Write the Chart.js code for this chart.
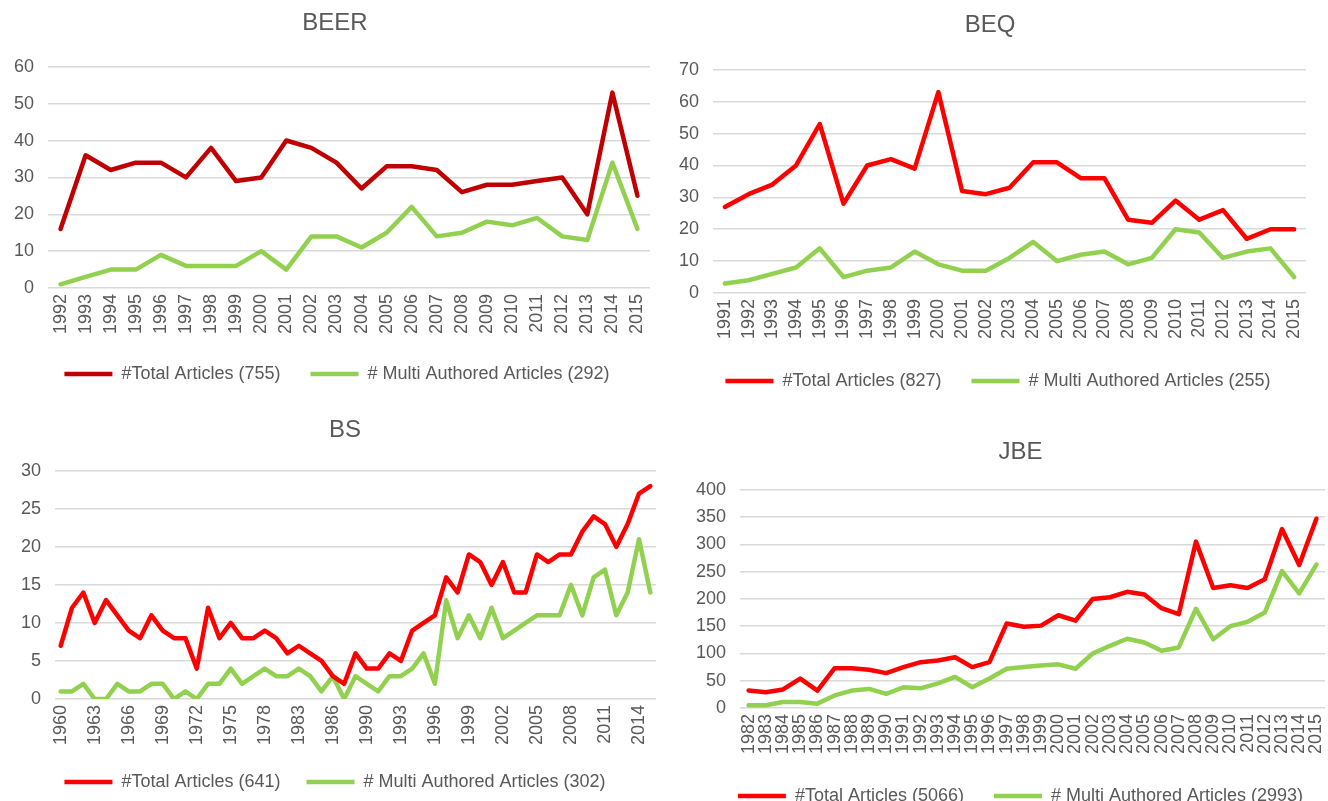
<!DOCTYPE html>
<html>
<head>
<meta charset="utf-8">
<script src="https://cdn.jsdelivr.net/npm/chart.js@4.4.1/dist/chart.umd.min.js"></script>
<style>
  html, body { margin: 0; padding: 0; background: #fff; overflow: hidden; }
  canvas { position: absolute; }
</style>
</head>
<body>
<canvas id="beer" width="664" height="400" style="left:0;top:0"></canvas>
<canvas id="beq" width="664" height="400" style="left:664px;top:0"></canvas>
<canvas id="bs" width="664" height="401" style="left:0;top:400px"></canvas>
<canvas id="jbe" width="664" height="400" style="left:664px;top:420px"></canvas>
<script>
// BEER
const beerYears = ['1992','1993','1994','1995','1996','1997','1998','1999','2000','2001','2002','2003',
  '2004','2005','2006','2007','2008','2009','2010','2011','2012','2013','2014','2015'];
const beerTotal = [16,36,32,34,34,30,38,29,30,40,38,34,27,33,33,32,26,28,28,29,30,20,53,25];
const beerMulti = [1,3,5,5,9,6,6,6,10,5,14,14,11,15,22,14,15,18,17,19,14,13,34,16];

// BEQ
const beqYears = ['1991','1992','1993','1994','1995','1996','1997','1998','1999','2000','2001','2002',
  '2003','2004','2005','2006','2007','2008','2009','2010','2011','2012','2013','2014','2015'];
const beqTotal = [27,31,34,40,53,28,40,42,39,63,32,31,33,41,41,36,36,23,22,29,23,26,17,20,20];
const beqMulti = [3,4,6,8,14,5,7,8,13,9,7,7,11,16,10,12,13,9,11,20,19,11,13,14,5];

// BS (only every third year is labelled on the axis)
const bsYears = ['1960','1961','1962','1963','1964','1965','1966','1967','1968','1969','1970','1971',
  '1972','1973','1974','1975','1976','1977','1978','1980','1981','1983','1984','1985','1986','1988',
  '1989','1990','1991','1992','1993','1994','1995','1996','1997','1998','1999','2000','2001','2002',
  '2003','2004','2005','2006','2007','2008','2009','2010','2011','2012','2013','2014','2015'];
const bsTotal = [7,12,14,10,13,11,9,8,11,9,8,8,4,12,8,10,8,8,9,8,6,7,6,5,3,2,6,4,4,6,5,9,10,11,16,
  14,19,18,15,18,14,14,19,18,19,19,22,24,23,20,23,27,28];
const bsMulti = [1,1,2,0,0,2,1,1,2,2,0,1,0,2,2,4,2,3,4,3,3,4,3,1,3,0,3,2,1,3,3,4,6,2,13,8,11,8,12,
  8,9,10,11,11,11,15,11,16,17,11,14,21,14];

// JBE
const jbeYears = ['1982','1983','1984','1985','1986','1987','1988','1989','1990','1991','1992','1993',
  '1994','1995','1996','1997','1998','1999','2000','2001','2002','2003','2004','2005','2006','2007',
  '2008','2009','2010','2011','2012','2013','2014','2015'];
const jbeTotal = [32,29,34,54,32,73,73,70,64,75,84,87,93,75,84,155,149,151,170,160,200,203,213,208,
  183,172,305,220,225,220,236,328,262,347];
const jbeMulti = [5,5,11,11,8,23,32,35,26,38,36,45,57,38,54,72,75,78,80,72,100,114,127,120,105,111,
  182,126,150,158,175,251,210,263];

const GREEN = '#92D050';
const TEXT = '#595959';
const FONT = "'Liberation Sans', Arial, sans-serif";

// nudges title / legend sideways (the Excel original isn't centred on the plot)
const shiftPlugin = {
  id: 'shift',
  afterLayout(chart, args, opts) {
    const t = chart.titleBlock;
    if (t && opts.title) { t.left += opts.title; t.right += opts.title; }
    const l = chart.legend;
    if (l && opts.legend) { l.left += opts.legend; l.right += opts.legend; }
  }
};

function makeChart(id, o) {
  const ctx = document.getElementById(id).getContext('2d');
  return new Chart(ctx, {
    type: 'line',
    plugins: [shiftPlugin],
    data: {
      labels: o.labels,
      datasets: [
        { label: o.totalLabel, data: o.total, borderColor: o.totalColor, backgroundColor: o.totalColor,
          borderWidth: 4.5, pointRadius: 0, tension: 0, borderCapStyle: 'round', borderJoinStyle: 'round' },
        { label: o.multiLabel, data: o.multi, borderColor: GREEN, backgroundColor: GREEN,
          borderWidth: 4.5, pointRadius: 0, tension: 0, borderCapStyle: 'round', borderJoinStyle: 'round' }
      ]
    },
    options: {
      responsive: false,
      animation: false,
      layout: { padding: o.pad },
      plugins: {
        shift: o.shift,
        title: {
          display: true, text: o.title, color: TEXT,
          font: { family: FONT, size: 24, weight: 'normal', lineHeight: 1.2 },
          padding: o.titlePad
        },
        legend: {
          position: 'bottom',
          labels: {
            color: TEXT, font: { family: FONT, size: 18 }, padding: o.legendPad,
            usePointStyle: true, pointStyle: 'line', pointStyleWidth: 48
          }
        },
        tooltip: { enabled: false }
      },
      scales: {
        x: {
          offset: true,
          grid: { display: false, drawTicks: false },
          border: { display: false },
          afterFit: function (s) { s.height = o.xHeight; s.paddingLeft = 0; s.paddingRight = 0; },
          ticks: {
            autoSkip: false, maxRotation: 90, minRotation: 90, padding: 6, color: TEXT,
            font: { family: FONT, size: 18 },
            callback: function (v, i) {
              return i % o.every === 0 ? this.getLabelForValue(v) : '';
            }
          }
        },
        y: {
          min: 0, max: o.yMax,
          grid: { color: '#D9D9D9', lineWidth: 1.5, drawTicks: false },
          border: { display: false },
          afterFit: function (s) { s.width = o.yWidth; },
          ticks: { stepSize: o.yStep, padding: 14, color: TEXT, font: { family: FONT, size: 18 } }
        }
      }
    }
  });
}

makeChart('beer', {
  title: 'BEER', labels: beerYears, total: beerTotal, multi: beerMulti, totalColor: '#C00000',
  totalLabel: '#Total Articles (755)', multiLabel: '# Multi Authored Articles (292)',
  yMax: 60, yStep: 10, every: 1,
  pad: { left: 0, right: 14, top: 0, bottom: 7 }, yWidth: 48, xHeight: 47, legendPad: 30,
  titlePad: { top: 9, bottom: 29 }, shift: { title: 10, legend: 12 }
});

makeChart('beq', {
  title: 'BEQ', labels: beqYears, total: beqTotal, multi: beqMulti, totalColor: '#FF0000',
  totalLabel: '#Total Articles (827)', multiLabel: '# Multi Authored Articles (255)',
  yMax: 70, yStep: 10, every: 1,
  pad: { left: 0, right: 22, top: 0, bottom: 0 }, yWidth: 49, xHeight: 49, legendPad: 30,
  titlePad: { top: 11, bottom: 30 }, shift: { title: 5, legend: 13 }
});

makeChart('bs', {
  title: 'BS', labels: bsYears, total: bsTotal, multi: bsMulti, totalColor: '#FF0000',
  totalLabel: '#Total Articles (641)', multiLabel: '# Multi Authored Articles (302)',
  yMax: 30, yStep: 5, every: 3,
  pad: { left: 0, right: 8, top: 0, bottom: 0 }, yWidth: 55, xHeight: 48, legendPad: 26,
  titlePad: { top: 16, bottom: 26 }, shift: { title: 17, legend: 7 }
});

makeChart('jbe', {
  title: 'JBE', labels: jbeYears, total: jbeTotal, multi: jbeMulti, totalColor: '#FF0000',
  totalLabel: '#Total Articles (5066)', multiLabel: '# Multi Authored Articles (2993)',
  yMax: 400, yStep: 50, every: 1,
  pad: { left: 0, right: 3, top: 0, bottom: 5 }, yWidth: 76, xHeight: 49, legendPad: 30,
  titlePad: { top: 18, bottom: 23 }, shift: { title: 26, legend: 26 }
});
</script>
</body>
</html>
